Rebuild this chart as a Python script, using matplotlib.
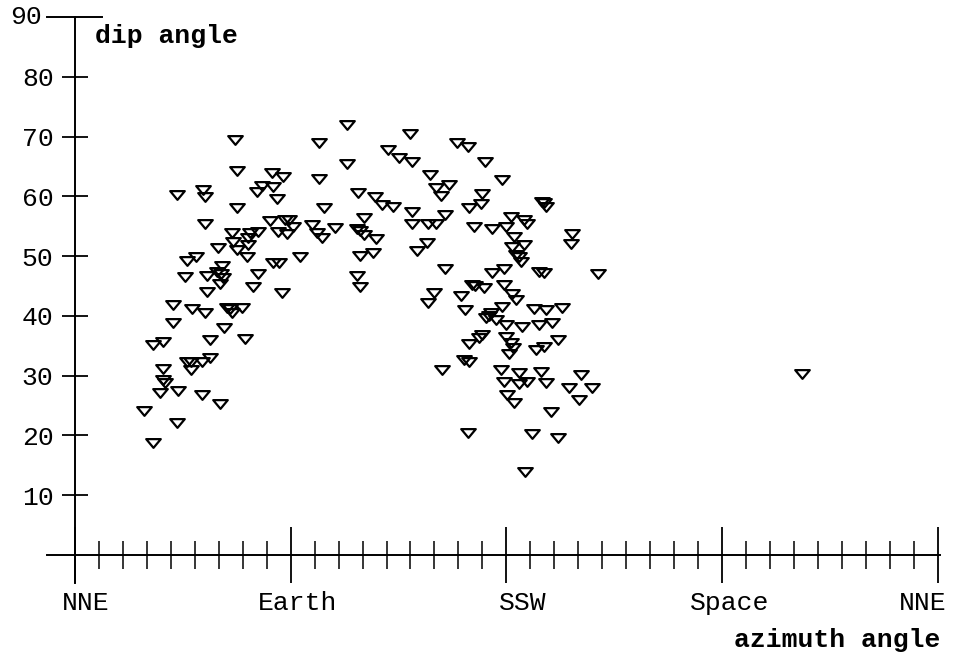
import matplotlib.pyplot as plt
import matplotlib.transforms as mtransforms
import numpy as np
from matplotlib.path import Path

# azimuth (deg, 0 = NNE) and dip angle (deg)
azimuth = [
    28.8, 32.5, 32.5, 36.7, 35.4, 36.7, 37.5, 36.7, 42.5, 42.9,
    40.8, 40.8, 42.5, 45.8, 46.7, 50.4, 46.7, 48.3, 48.3, 48.8,
    52.9, 52.9, 53.3, 54.2, 54.2, 54.2, 55.0, 55.0, 56.2, 56.2,
    59.6, 59.2, 60.8, 60.4, 60.4, 61.2, 61.7, 62.1, 63.3, 64.6,
    65.4, 69.6, 65.4, 65.8, 66.7, 67.5, 67.5, 67.5, 70.8, 71.7,
    72.1, 72.1, 72.9, 74.2, 75.8, 76.2, 76.2, 77.9, 81.2, 82.5,
    84.2, 82.5, 85.0, 84.6, 86.2, 86.7, 87.5, 89.2, 88.3, 90.8,
    82.1,
    93.8, 98.8, 100.8, 101.7, 101.7, 102.9, 103.8, 108.3, 113.3, 113.3,
    117.5, 118.8, 118.3, 118.8, 120.8, 117.5, 118.8, 120.8, 124.2, 125.8,
    125.4, 128.3, 132.9, 130.8, 135.4, 139.6, 140.8, 140.8, 140.8, 142.9,
    147.1, 147.5, 150.8, 148.3, 150.8, 156.2, 152.9, 154.6, 154.6, 150.0,
    147.5,
    159.6, 164.2, 171.2, 178.3, 170.0, 169.6, 164.6, 166.7, 174.2, 161.2,
    162.9, 165.8, 167.1, 170.8, 174.2, 179.2, 179.2, 182.5, 184.2, 178.3,
    173.8, 171.7, 172.9, 175.8, 180.0, 186.7, 193.8, 199.2, 170.0, 168.8,
    164.6, 180.0, 182.1, 182.9, 181.2, 192.5, 195.8, 201.7, 162.5, 164.6,
    153.3, 177.9, 185.4, 194.6, 179.2, 185.4, 188.8, 196.7, 211.2, 206.2,
    215.8, 180.4, 183.3, 210.4, 198.8, 163.8, 190.8, 201.7, 187.9, 182.1,
    187.5, 188.8, 180.0, 183.3, 182.5, 187.5, 185.4, 184.2, 186.2, 195.8,
    195.0, 196.7, 207.5, 207.1, 193.8, 195.8, 218.3, 191.7, 196.7, 203.3,
    303.3,
]
dip = [
    24.1, 18.7, 35.1, 35.6, 27.1, 29.3, 28.8, 31.1, 22.1, 27.4,
    41.8, 38.8, 60.2, 46.5, 49.2, 49.8, 32.3, 32.3, 30.9, 41.1,
    32.3, 26.8, 61.0, 59.9, 55.4, 40.5, 46.7, 44.0, 36.0, 32.9,
    51.3, 47.3, 47.0, 45.3, 25.3, 48.3, 46.3, 38.0, 41.3, 41.1,
    40.5, 41.3, 53.8, 52.3, 69.4, 64.2, 58.0, 51.0, 36.1, 49.8,
    53.0, 51.8, 53.8, 44.8, 60.7, 54.0, 47.0, 61.7, 55.9, 61.5,
    59.5, 48.8, 48.8, 54.0, 43.8, 63.2, 56.0, 56.0, 53.7, 54.8,
    63.9,
    49.8, 55.2, 53.8, 68.9, 62.9, 53.0, 58.0, 54.7, 71.9, 65.4,
    46.7, 44.8, 60.5, 50.0, 56.4, 54.5, 54.2, 53.5, 50.5, 52.8,
    59.9, 58.5, 58.2, 67.7, 66.4, 70.4, 65.7, 57.4, 55.4, 50.8,
    52.2, 55.4, 55.4, 63.5, 61.4, 61.9, 60.0, 56.9, 47.8, 43.8,
    42.1,
    68.9, 68.2, 65.7, 62.7, 60.4, 58.7, 58.0, 54.8, 54.5, 43.3,
    41.0, 45.2, 45.0, 44.6, 47.2, 47.8, 45.2, 43.6, 42.6, 41.5,
    40.5, 39.6, 40.0, 39.3, 38.5, 38.1, 38.5, 38.8, 36.8, 36.3,
    35.3, 36.5, 35.5, 34.6, 33.6, 34.3, 34.8, 36.0, 32.6, 32.3,
    30.9, 30.9, 30.4, 30.6, 28.9, 28.6, 28.9, 28.8, 30.1, 27.9,
    27.9, 26.8, 25.4, 25.9, 23.9, 20.4, 20.2, 19.6, 13.9, 56.5,
    56.0, 55.4, 54.8, 53.2, 51.5, 51.8, 49.8, 50.2, 49.0, 58.9,
    59.0, 58.2, 53.7, 52.0, 47.3, 47.2, 47.0, 41.1, 41.0, 41.3,
    30.3,
]

sector_ticks = [0, 90, 180, 270, 360]
sector_labels = ['NNE', 'Earth', 'SSW', 'Space', 'NNE']
dip_ticks = [10, 20, 30, 40, 50, 60, 70, 80]

plt.rcParams['font.family'] = ['Liberation Mono', 'DejaVu Sans Mono']

fig = plt.figure(figsize=(9.59, 6.6), dpi=100)
ax = fig.add_axes([47 / 959, 77 / 660, 893 / 959, 566 / 660])

# axes crossing at zero like a hand drawn plot
ax.spines['left'].set_position(('data', 0))
ax.spines['bottom'].set_position(('data', 0))
ax.spines['top'].set_visible(False)
ax.spines['right'].set_visible(False)
ax.spines['left'].set_linewidth(1.4)
ax.spines['bottom'].set_linewidth(1.4)

ax.set_xlim(-11.7, 361)
ax.set_ylim(-4.7, 90)

# flat down-pointing triangle
tri = Path([(-1, 0.6), (1, 0.6), (0, -0.6), (-1, 0.6)],
           [Path.MOVETO, Path.LINETO, Path.LINETO, Path.CLOSEPOLY])
ax.plot(azimuth, dip, linestyle='none', marker=tri, markersize=10.5,
        markerfacecolor='none', markeredgecolor='black',
        markeredgewidth=1.6, clip_on=False)

ax.set_xticks(sector_ticks, sector_labels)
ax.set_xticks(np.arange(0, 361, 10), minor=True)
ax.tick_params(axis='x', which='major', direction='inout', length=40,
               width=1.3, pad=6, labelsize=19)
ax.tick_params(axis='x', which='minor', direction='inout', length=20,
               width=1.1)

# labels sit a little off their ticks in the original
label_shift = [11, 7, 16, 8, -15]
for lab, dx in zip(ax.get_xticklabels(), label_shift):
    off = mtransforms.ScaledTranslation(dx / 100, 0, fig.dpi_scale_trans)
    lab.set_transform(lab.get_transform() + off)

ax.set_yticks(dip_ticks)
ax.tick_params(axis='y', direction='inout', length=19, width=1.3,
               pad=6, labelsize=19)

# the 90 mark is a long bar with its own label
ax.plot([-11.7, 11.25], [90, 90], color='black', lw=1.4, clip_on=False)
ax.text(-14, 90, '90', ha='right', va='center', fontsize=19)

ax.text(8.3, 86.8, 'dip angle', ha='left', va='center', fontsize=19,
        fontweight='bold')
ax.text(361, -14.2, 'azimuth angle', ha='right', va='center', fontsize=19,
        fontweight='bold', clip_on=False)

fig.savefig('out.png', dpi=100)
